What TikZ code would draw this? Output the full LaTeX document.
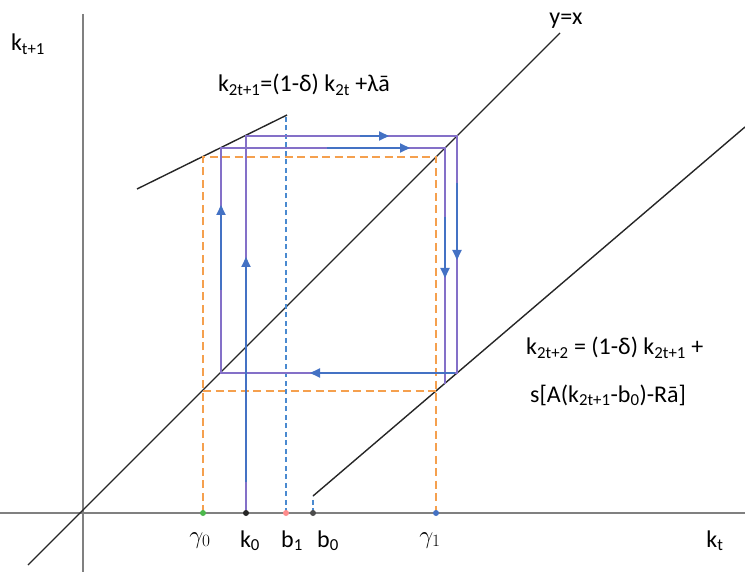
\documentclass[tikz,border=0pt]{standalone}
\usepackage{fontspec}
\setmainfont{Carlito}
\usetikzlibrary{arrows.meta}
\definecolor{purp}{HTML}{8470C8}
\definecolor{arrblue}{HTML}{4472C4}
\definecolor{orng}{HTML}{F5A04E}
\definecolor{dblue}{HTML}{4A8AD0}
\definecolor{axisgray}{HTML}{808080}
\newcommand\sbs[1]{\textsubscript{#1}}
\tikzset{
  axisline/.style={draw=axisgray, line width=2pt},
  curveline/.style={draw=black!85, line width=1.4pt},
  cobweb/.style={draw=purp, line width=1.9pt},
  flow/.style={draw=arrblue, line width=1.9pt, -{Triangle[length=10pt,width=9pt]}},
  odash/.style={draw=orng, line width=1.8pt, dash pattern=on 8pt off 4.5pt},
  bdash/.style={draw=dblue, line width=1.4pt, dash pattern=on 5pt off 3.5pt},
  lbl/.style={inner sep=0pt, anchor=base, font=\fontsize{24}{28}\selectfont},
  glbl/.style={inner sep=0pt, anchor=base, font=\fontsize{25}{28}\selectfont},
  dotmark/.style={circle, inner sep=0pt, minimum size=6pt},
}
\begin{document}
\begin{tikzpicture}[x=1pt,y=-1pt]
\useasboundingbox (0,0) rectangle (745,572);
% axes
\coordinate (xl) at (0,513); \coordinate (xr) at (745,513);
\coordinate (yt) at (83,14); \coordinate (yb) at (83,572);
\draw[axisline] (xl) -- (xr);
\draw[axisline] (yt) -- (yb);
% curves
\coordinate (d1) at (28,565); \coordinate (d2) at (560,33);
\draw[curveline] (d1) -- (d2);
\coordinate (u1) at (137,189); \coordinate (u2) at (287,115);
\draw[curveline] (u1) -- (u2);
\coordinate (l1) at (313,496); \coordinate (l2) at (745,127);
\draw[curveline] (l1) -- (l2);
% orange dashed
\coordinate (o1) at (203,513); \coordinate (o2) at (203,157);
\coordinate (o3) at (436,157); \coordinate (o4) at (436,513);
\coordinate (o5) at (203,391); \coordinate (o6) at (436,391);
\draw[odash] (o1) -- (o2) -- (o3) -- (o4);
\draw[odash] (o5) -- (o6);
% blue dashed
\coordinate (b1a) at (286,513); \coordinate (b1b) at (286,115);
\draw[bdash] (b1a) -- (b1b);
\coordinate (b0a) at (313,513);
\draw[bdash] (b0a) -- (l1);
% cobweb
\coordinate (A0) at (246,513); \coordinate (A1) at (246,136);
\coordinate (A2) at (457,136); \coordinate (A3) at (457,373);
\coordinate (A4) at (221,373); \coordinate (A5) at (221,148);
\coordinate (A6) at (445,148); \coordinate (A7) at (445,383.5);
\draw[cobweb] (A0) -- (A1) -- (A2) -- (A3) -- (A4) -- (A5) -- (A6) -- (A7);
% flow arrows
\coordinate (f1s) at (246,482); \coordinate (f1e) at (246,257);
\draw[flow] (f1s) -- (f1e);
\coordinate (f2s) at (221,290); \coordinate (f2e) at (221,205);
\draw[flow] (f2s) -- (f2e);
\coordinate (f3s) at (360,136); \coordinate (f3e) at (389,136);
\draw[flow] (f3s) -- (f3e);
\coordinate (f4s) at (327,148); \coordinate (f4e) at (410,148);
\draw[flow] (f4s) -- (f4e);
\coordinate (f5s) at (457,183); \coordinate (f5e) at (457,260);
\draw[flow] (f5s) -- (f5e);
\coordinate (f6s) at (445,217); \coordinate (f6e) at (445,278);
\draw[flow] (f6s) -- (f6e);
\coordinate (f7s) at (455,373); \coordinate (f7e) at (310,373);
\draw[flow] (f7s) -- (f7e);
% dots
\node[dotmark, fill=green!60!black!70] (pg0) at (203,513) {};
\node[dotmark, fill=black!85] (pk0) at (246,513) {};
\node[dotmark, fill=red!45] (pb1) at (286,513) {};
\node[dotmark, fill=black!70] (pb0) at (313,513) {};
\node[dotmark, fill=arrblue] (pg1) at (436,513) {};
% labels
\node[glbl] (tg0) at (200,543) {$\gamma_0$};
\node[lbl] (tk0) at (250,547) {k\sbs{0}};
\node[lbl] (tb1) at (292,547) {b\sbs{1}};
\node[lbl] (tb0) at (328,547) {b\sbs{0}};
\node[glbl] (tg1) at (430,543) {$\gamma_1$};
\node[lbl] (tkt) at (715,547) {k\sbs{t}};
\node[lbl] (tkt1) at (28,51) {k\sbs{t+1}};
\node[lbl] (tyx) at (566,25) {y=x};
\node[lbl] (eq1) at (304,92) {k\sbs{2t+1}=(1-δ) k\sbs{2t} +λā};
\node[lbl, anchor=base west] (eq2a) at (526,355) {k\sbs{2t+2} = (1-δ) k\sbs{2t+1} +};
\node[lbl, anchor=base west] (eq2b) at (530,402) {s[A(k\sbs{2t+1}-b\sbs{0})-Rā]};
\end{tikzpicture}
\end{document}
